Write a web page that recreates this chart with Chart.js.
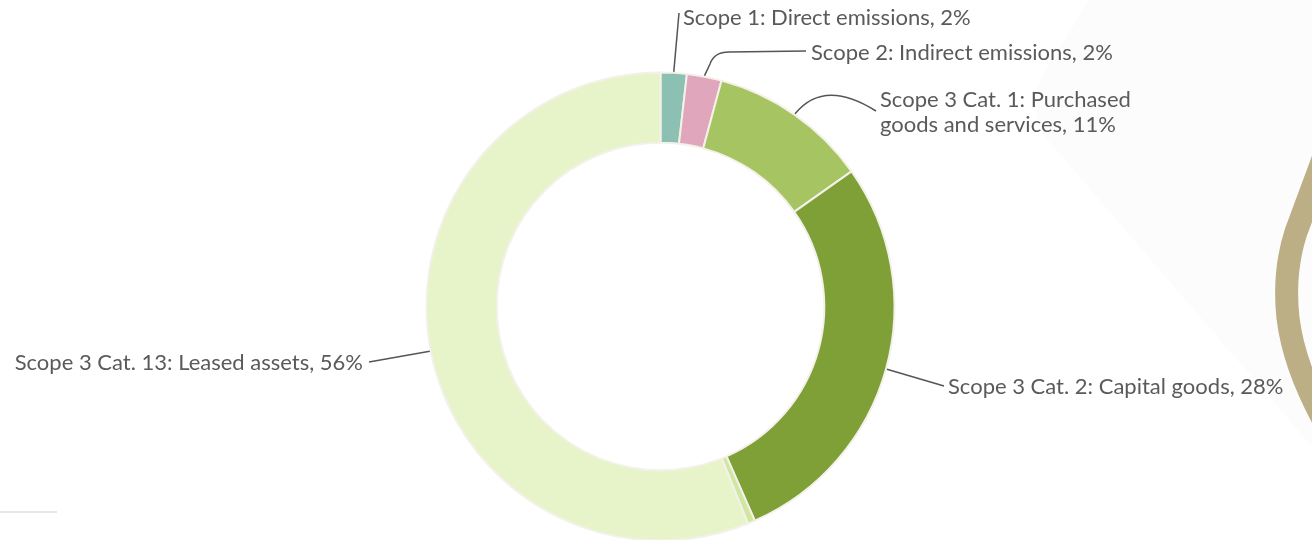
<!DOCTYPE html>
<html>
<head>
<meta charset="utf-8">
<script src="https://cdn.jsdelivr.net/npm/chart.js@4/dist/chart.umd.min.js"></script>
<style>
  html, body { margin: 0; padding: 0; background: #ffffff; }
  #wrap { position: relative; width: 1312px; height: 540px; overflow: hidden; }
  #deco { position: absolute; left: 0; top: 0; }
  #c { position: absolute; left: 0; top: 0; }
</style>
</head>
<body>
<div id="wrap">
  <svg id="deco" width="1312" height="540" viewBox="0 0 1312 540">
    <path d="M 1095 -10 L 1045 72 Q 1025 100 1045 137 L 1320 456 L 1330 456 L 1330 -10 Z" fill="#fcfcfc"/>
    <path d="M 1332 135 L 1296 232 Q 1283 272 1288 318 Q 1294 368 1328 428" fill="none" stroke="#bcae85" stroke-width="23"/>
    <line x1="0" y1="512" x2="57" y2="512" stroke="#e6e6e6" stroke-width="2"/>
  </svg>
  <canvas id="c" width="1312" height="540"></canvas>
</div>
<script>
const categories = [
  "Scope 1: Direct emissions",
  "Scope 2: Indirect emissions",
  "Scope 3 Cat. 1: Purchased goods and services",
  "Scope 3 Cat. 2: Capital goods",
  "Other",
  "Scope 3 Cat. 13: Leased assets"
];
const values = [1.8, 2.4, 11.0, 28.2, 0.5, 56.1];
const colors = ["#8bc0b3", "#e0a6bc", "#a7c462", "#7f9f37", "#cfe79f", "#e7f4c9"];

// label layout: text lines, text position, leader path (anchor comes from the arc element)
const labelLayout = [
  { lines: ["Scope 1: Direct emissions, {p}"], x: 683, y: 25, align: "left",
    path: [["L", 679, 13]] },
  { lines: ["Scope 2: Indirect emissions, {p}"], x: 811, y: 60, align: "left",
    path: [["L", 710, 64], ["Q", 714, 52, 729, 52], ["L", 806, 51]] },
  { lines: ["Scope 3 Cat. 1: Purchased", "goods and services, {p}"], x: 880, y: 107, align: "left", lh: 25,
    path: [["Q", 824, 78, 876, 111]] },
  { lines: ["Scope 3 Cat. 2: Capital goods, {p}"], x: 948, y: 394, align: "left",
    path: [["L", 944, 386]] },
  null,
  { lines: ["Scope 3 Cat. 13: Leased assets, {p}"], x: 363, y: 370, align: "right",
    path: [["L", 369, 362]] }
];

const total = values.reduce((a, b) => a + b, 0);

const labelPlugin = {
  id: "leaderLabels",
  afterDatasetsDraw(chart) {
    const ctx = chart.ctx;
    const meta = chart.getDatasetMeta(0);
    ctx.save();
    meta.data.forEach((arc, i) => {
      const lay = labelLayout[i];
      if (!lay) return;
      const p = arc.getProps(["x", "y", "startAngle", "endAngle", "outerRadius"], true);
      const mid = (p.startAngle + p.endAngle) / 2;
      const r = p.outerRadius + 1;
      const ax = p.x + Math.cos(mid) * r;
      const ay = p.y + Math.sin(mid) * r;
      ctx.beginPath();
      ctx.moveTo(ax, ay);
      lay.path.forEach(s => {
        if (s[0] === "L") ctx.lineTo(s[1], s[2]);
        else if (s[0] === "Q") ctx.quadraticCurveTo(s[1], s[2], s[3], s[4]);
      });
      ctx.strokeStyle = "#555555";
      ctx.lineWidth = 1.5;
      ctx.stroke();
      const pct = Math.round(values[i] / total * 100) + "%";
      ctx.fillStyle = "#5a5a5a";
      ctx.font = "22px Lato";
      ctx.textAlign = lay.align;
      ctx.textBaseline = "alphabetic";
      lay.lines.forEach((t, k) => {
        ctx.fillText(t.replace("{p}", pct), lay.x, lay.y + k * (lay.lh || 25));
      });
    });
    ctx.restore();
  }
};

new Chart(document.getElementById("c"), {
  type: "doughnut",
  data: {
    labels: categories,
    datasets: [{
      data: values,
      backgroundColor: colors,
      borderColor: "#f3f1e9",
      borderWidth: 2
    }]
  },
  options: {
    responsive: false,
    animation: false,
    radius: 234,
    cutout: "70%",
    layout: { padding: { left: 9, top: 73, right: 0, bottom: 0 } },
    plugins: { legend: { display: false }, tooltip: { enabled: false } }
  },
  plugins: [labelPlugin]
});
</script>
</body>
</html>
